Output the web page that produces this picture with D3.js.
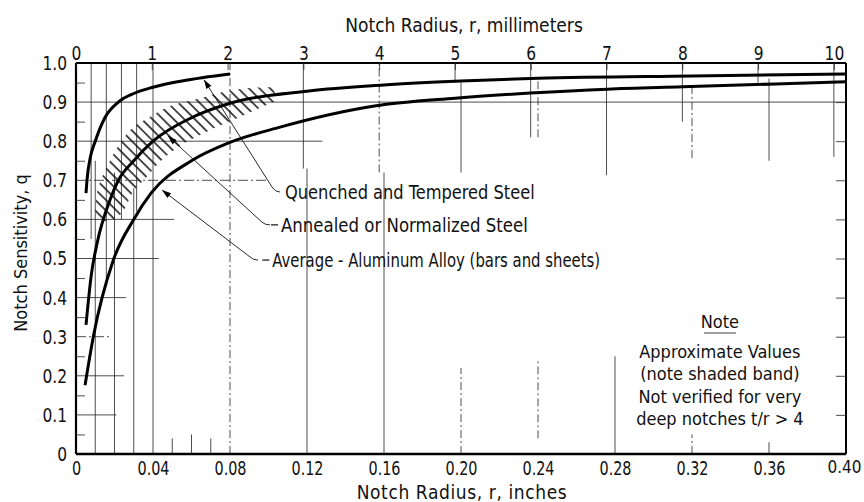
<!DOCTYPE html>
<html>
<head>
<meta charset="utf-8">
<script src="https://cdn.jsdelivr.net/npm/d3@7"></script>
<style>
  body { margin: 0; background: #fff; }
  svg text { font-family: "Liberation Sans Narrow", "DejaVu Sans Condensed", "DejaVu Sans", sans-serif; fill: #111; }
</style>
</head>
<body>
<script>
// notch sensitivity q vs notch radius r (inches)
const quenched = [
  [0.0052, 0.667], [0.0057, 0.70], [0.0075, 0.76], [0.010, 0.80], [0.015, 0.86],
  [0.022, 0.90], [0.030, 0.922], [0.040, 0.938], [0.055, 0.954], [0.080, 0.972]
];
const annealed = [
  [0.0052, 0.33], [0.008, 0.46], [0.011, 0.54], [0.0177, 0.65], [0.022, 0.70],
  [0.030, 0.75], [0.040, 0.80], [0.060, 0.86], [0.080, 0.897], [0.120, 0.928],
  [0.160, 0.944], [0.200, 0.954], [0.240, 0.961], [0.320, 0.967], [0.400, 0.972]
];
const aluminum = [
  [0.0047, 0.176], [0.009, 0.30], [0.0194, 0.496], [0.030, 0.60], [0.039, 0.667],
  [0.060, 0.75], [0.080, 0.797], [0.106, 0.836], [0.155, 0.89], [0.197, 0.91],
  [0.236, 0.923], [0.276, 0.933], [0.315, 0.939], [0.400, 0.952]
];

// shaded band (upper edge left->right, lower edge right->left)
const bandUpper = [
  [0.0100, 0.62], [0.0115, 0.68], [0.0166, 0.74], [0.0229, 0.795], [0.0296, 0.835],
  [0.0384, 0.862], [0.0488, 0.89], [0.0629, 0.908], [0.0764, 0.926], [0.0904, 0.936], [0.102, 0.938]
];
const bandLower = [
  [0.105, 0.905], [0.0992, 0.893], [0.0852, 0.862], [0.0748, 0.84], [0.0629, 0.812],
  [0.054, 0.788], [0.0452, 0.755], [0.0369, 0.71], [0.0296, 0.67], [0.0244, 0.62],
  [0.0195, 0.60], [0.0125, 0.595]
];

const qTicks = [0, 0.1, 0.2, 0.3, 0.4, 0.5, 0.6, 0.7, 0.8, 0.9, 1.0];
const qMinor = [0.05, 0.15, 0.25, 0.35, 0.45, 0.55, 0.65, 0.75, 0.85, 0.95];
const rTicks = [0, 0.04, 0.08, 0.12, 0.16, 0.20, 0.24, 0.28, 0.32, 0.36, 0.40];
const mmTicks = [0, 1, 2, 3, 4, 5, 6, 7, 8, 9, 10];

// grid pieces: [q, rFrom, rTo] and [r, qFrom, qTo]
const hGridSolid = [
  [0.8, 0, 0.128], [0.6, 0, 0.051], [0.5, 0, 0.043], [0.4, 0, 0.026],
  [0.2, 0, 0.025], [0.1, 0, 0.021], [0.9, 0, 0.40]
];
const hGridDashed = [[0.7, 0, 0.10], [0.3, 0, 0.018]];
const vGridSolid = [
  [0.00787, 0.55, 1], [0.01575, 0.45, 1], [0.0236, 0.60, 1], [0.0315, 0.62, 1],
  [0.01, 0, 0.75], [0.02, 0, 0.72], [0.03, 0, 0.68], [0.04, 0, 1],
  [0.05, 0, 0.04], [0.06, 0, 0.05], [0.07, 0, 0.04],
  [0.12, 0, 0.73], [0.1181, 0.73, 1], [0.16, 0, 0.72], [0.1969, 0.95, 1], [0.20, 0.72, 0.95],
  [0.2362, 0.81, 1], [0.28, 0, 0.25], [0.2756, 0.713, 1], [0.315, 0.85, 1],
  [0.3543, 0.95, 1], [0.36, 0.75, 0.96], [0.36, 0, 0.03], [0.3937, 0.76, 1]
];
const vGridDotted = [
  [0.08, 0, 1], [0.1575, 0.72, 1], [0.20, 0, 0.22], [0.24, 0.81, 0.96], [0.24, 0.04, 0.24],
  [0.32, 0.757, 0.94], [0.32, 0, 0.05]
];

// leader annotations: tip, elbow, label start (data units)
const labels = [
  {text: "Quenched and Tempered Steel", tip: [0.0665, 0.957], elbow: [0.1018, 0.683], at: [0.1086, 0.670], dash: false},
  {text: "Annealed or Normalized Steel", tip: [0.0478, 0.813], elbow: [0.0966, 0.593], at: [0.1065, 0.586], dash: true},
  {text: "Average - Aluminum Alloy (bars and sheets)", tip: [0.0447, 0.675], elbow: [0.0904, 0.504], at: [0.1020, 0.496], dash: true}
];
const noteLines = ["Approximate Values", "(note shaded band)", "Not verified for very", "deep notches t/r > 4"];

const W = 864, H = 502;
const x = d3.scaleLinear([0, 0.4], [76, 846]);
const y = d3.scaleLinear([0, 1], [454, 63]);
const xmm = d3.scaleLinear([0, 10], [x(0), x(10 / 25.4)]);

const svg = d3.select(document.body).append('svg')
  .attr('width', W).attr('height', H);

// squeeze text horizontally, the scan uses a narrow face
const condense = (sel, k) => sel.each(function() {
  const len = this.getComputedTextLength();
  d3.select(this).attr('textLength', len * k).attr('lengthAdjust', 'spacingAndGlyphs');
});

// grid
const grid = svg.append('g').attr('stroke', '#222').attr('fill', 'none');
grid.selectAll('.hs').data(hGridSolid).join('line')
  .attr('x1', d => x(d[1])).attr('x2', d => x(d[2]))
  .attr('y1', d => y(d[0])).attr('y2', d => y(d[0]))
  .attr('stroke-width', 0.8);
grid.selectAll('.hd').data(hGridDashed).join('line')
  .attr('x1', d => x(d[1])).attr('x2', d => x(d[2]))
  .attr('y1', d => y(d[0])).attr('y2', d => y(d[0]))
  .attr('stroke-width', 0.8).attr('stroke-dasharray', '10,3,2,3');
grid.selectAll('.vs').data(vGridSolid).join('line')
  .attr('x1', d => x(d[0])).attr('x2', d => x(d[0]))
  .attr('y1', d => y(d[1])).attr('y2', d => y(d[2]))
  .attr('stroke-width', 0.8);
grid.selectAll('.vd').data(vGridDotted).join('line')
  .attr('x1', d => x(d[0])).attr('x2', d => x(d[0]))
  .attr('y1', d => y(d[1])).attr('y2', d => y(d[2]))
  .attr('stroke-width', 0.8).attr('stroke-dasharray', '8,3,2,3');

// hatched band
const defs = svg.append('defs');
defs.append('pattern')
  .attr('id', 'hatch').attr('patternUnits', 'userSpaceOnUse')
  .attr('width', 7.5).attr('height', 20)
  .attr('patternTransform', 'rotate(-45)')
  .append('line')
  .attr('x1', 1).attr('x2', 1).attr('y1', 0).attr('y2', 20)
  .attr('stroke', '#111').attr('stroke-width', 1.5);

const bandLine = d3.line().x(d => x(d[0])).y(d => y(d[1])).curve(d3.curveCatmullRom);
svg.append('path')
  .attr('d', bandLine(bandUpper) + 'L' + bandLine(bandLower).slice(1) + 'Z')
  .attr('fill', 'url(#hatch)');

// curves
const line = d3.line().x(d => x(d[0])).y(d => y(d[1])).curve(d3.curveMonotoneX);
svg.append('g').attr('fill', 'none').attr('stroke', '#000').attr('stroke-width', 3)
  .selectAll('path').data([quenched, annealed, aluminum]).join('path')
  .attr('d', line);

// frame
const frame = svg.append('g').attr('stroke', '#000');
frame.append('line').attr('x1', x(0)).attr('x2', x(0.4)).attr('y1', y(1)).attr('y2', y(1)).attr('stroke-width', 2);
frame.append('line').attr('x1', x(0)).attr('x2', x(0.4)).attr('y1', y(0)).attr('y2', y(0)).attr('stroke-width', 2.5);
frame.append('line').attr('x1', x(0)).attr('x2', x(0)).attr('y1', y(0)).attr('y2', y(1)).attr('stroke-width', 2.2);
frame.append('line').attr('x1', x(0.4)).attr('x2', x(0.4)).attr('y1', y(0)).attr('y2', y(1)).attr('stroke-width', 2);

// axes
const fmtQ = d => d === 0 ? '0' : d.toFixed(1);
const fmtR = d => d === 0 ? '0' : d.toFixed(2);

const yAxis = svg.append('g').attr('transform', `translate(${x(0)},0)`)
  .call(d3.axisLeft(y).tickValues(qTicks).tickFormat(fmtQ).tickSize(0).tickPadding(9));
const yMinor = svg.append('g').attr('transform', `translate(${x(0)},0)`)
  .call(d3.axisRight(y).tickValues(qMinor).tickFormat('').tickSize(9));
const yRight = svg.append('g').attr('transform', `translate(${x(0.4)},0)`)
  .call(d3.axisLeft(y).tickValues(qTicks.slice(1, 10)).tickFormat('').tickSize(10));
const xAxis = svg.append('g').attr('transform', `translate(0,${y(0)})`)
  .call(d3.axisBottom(x).tickValues(rTicks).tickFormat(fmtR).tickSize(0).tickPadding(7));
const mmAxis = svg.append('g').attr('transform', `translate(0,${y(1)})`)
  .call(d3.axisTop(xmm).tickValues(mmTicks).tickFormat(d3.format('d')).tickSize(-7).tickPadding(3));

[yAxis, yMinor, yRight, xAxis, mmAxis].forEach(g => {
  g.select('.domain').remove();
  g.selectAll('line').attr('stroke', '#222').attr('stroke-width', 0.8);
  g.selectAll('text').attr('font-size', 20).attr('fill', '#111')
    .attr('font-family', null);
});
condense(yAxis.selectAll('text'), 0.86);
condense(mmAxis.selectAll('text'), 0.86);
const innerR = xAxis.selectAll('.tick').filter(d => d < 0.4).select('text');
condense(innerR, 0.8);
// keep the last inch label inside the window
xAxis.selectAll('.tick').filter(d => d === 0.4).select('text')
  .attr('text-anchor', 'end').attr('x', 15).attr('font-size', 17);

// axis titles
const titles = svg.append('g').attr('text-anchor', 'middle').attr('font-size', 19);
titles.append('text').attr('x', 464).attr('y', 25)
  .attr('dominant-baseline', 'central').text('Notch Radius, r, millimeters');
titles.append('text').attr('x', 462).attr('y', 492)
  .attr('dominant-baseline', 'central').attr('letter-spacing', 0.6).text('Notch Radius, r, inches');
titles.append('text').attr('transform', 'translate(20,253) rotate(-90)')
  .attr('dominant-baseline', 'central').attr('font-size', 18).text('Notch Sensitivity, q');

// leaders with arrowheads
const labelSqueeze = [0.95, 0.97, 0.87];
const ann = svg.append('g');
labels.forEach((a, i) => {
  const [tx, ty] = [x(a.tip[0]), y(a.tip[1])];
  const [ex, ey] = [x(a.elbow[0]), y(a.elbow[1])];
  const [lx, ly] = [x(a.at[0]), y(a.at[1])];
  ann.append('path')
    .attr('d', `M${tx},${ty}L${ex},${ey}Q${ex + 3},${ly} ${ex + 8},${ly}`)
    .attr('fill', 'none').attr('stroke', '#111').attr('stroke-width', 0.9);
  if (a.dash) {
    ann.append('line').attr('x1', lx - 10).attr('x2', lx - 3).attr('y1', ly).attr('y2', ly)
      .attr('stroke', '#111').attr('stroke-width', 1.2);
  }
  const ang = Math.atan2(ty - ey, tx - ex);
  const len = 9, wid = 3;
  const bx = tx - len * Math.cos(ang), by = ty - len * Math.sin(ang);
  const px = -Math.sin(ang) * wid, py = Math.cos(ang) * wid;
  ann.append('path')
    .attr('d', `M${tx},${ty}L${bx + px},${by + py}L${bx - px},${by - py}Z`)
    .attr('fill', '#000');
  const t = ann.append('text').attr('x', lx).attr('y', ly).attr('dominant-baseline', 'central')
    .attr('font-size', 19).text(a.text);
  condense(t, labelSqueeze[i]);
});

// note block
const note = svg.append('g').attr('text-anchor', 'middle');
note.append('text').attr('x', x(0.3345)).attr('y', y(0.3376)).attr('dominant-baseline', 'central')
  .attr('font-size', 18).text('Note');
note.append('line').attr('x1', x(0.3345) - 16).attr('x2', x(0.3345) + 16)
  .attr('y1', y(0.3376) + 11).attr('y2', y(0.3376) + 11).attr('stroke', '#111').attr('stroke-width', 0.8);
note.selectAll('.nl').data(noteLines).join('text')
  .attr('x', x(0.3345))
  .attr('y', (d, i) => y(0.2634) + i * 22.5)
  .attr('dominant-baseline', 'central')
  .attr('font-size', 18)
  .text(d => d);
</script>
</body>
</html>
